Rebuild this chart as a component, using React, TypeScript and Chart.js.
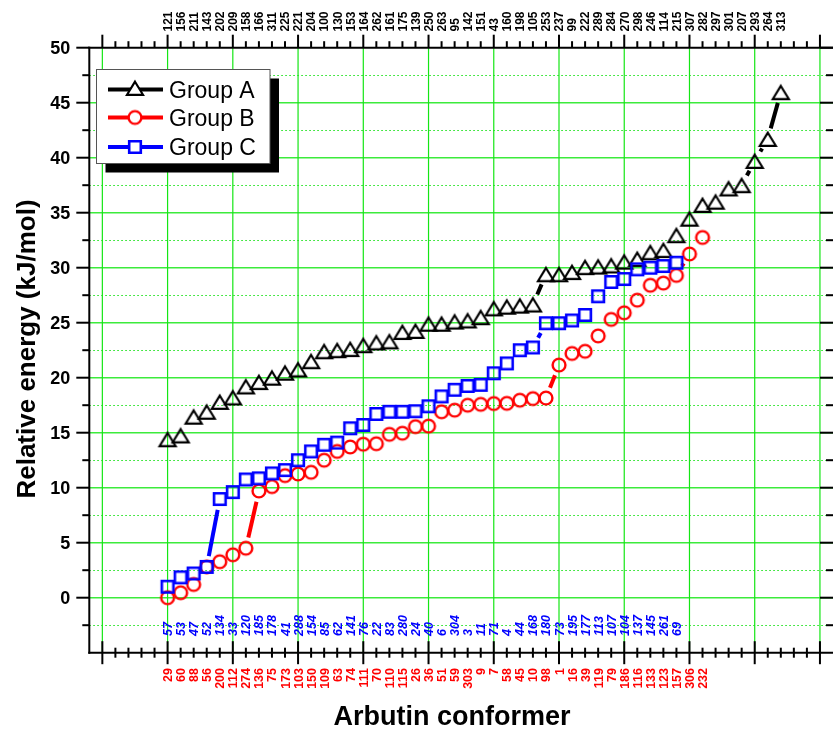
import React, { useEffect, useRef } from "react";
import { Chart, registerables } from "chart.js";
Chart.register(...registerables);

// ---- data (index = conformer rank along the x axis) ----
const energyA = [14.4, 14.75, 16.45, 16.9, 17.8, 18.2, 19.2, 19.6, 20.0, 20.45,
  20.75, 21.5, 22.4, 22.5, 22.6, 22.95, 23.2, 23.3, 24.15, 24.25,
  24.9, 24.9, 25.1, 25.2, 25.5, 26.3, 26.45, 26.55, 26.65, 29.4,
  29.4, 29.6, 30.05, 30.1, 30.2, 30.55, 30.8, 31.4, 31.6, 32.95,
  34.45, 35.7, 36.0, 37.2, 37.5, 39.7, 41.7, 45.95];
const energyB = [0.0, 0.45, 1.2, 2.8, 3.27, 3.9, 4.5, 9.7, 10.1, 11.1,
  11.25, 11.4, 12.5, 13.3, 13.7, 13.95, 14.0, 14.85, 14.95, 15.55,
  15.6, 16.9, 17.05, 17.5, 17.58, 17.65, 17.67, 17.95, 18.1, 18.15,
  21.15, 22.2, 22.4, 23.8, 25.3, 25.9, 27.05, 28.4, 28.6, 29.3,
  31.25, 32.75];
const energyC = [1.0, 1.85, 2.2, 2.8, 8.97, 9.6, 10.75, 10.85, 11.3, 11.6,
  12.5, 13.3, 13.9, 14.1, 15.4, 15.7, 16.7, 16.9, 16.9, 16.95,
  17.4, 18.3, 18.9, 19.25, 19.35, 20.4, 21.3, 22.5, 22.75, 24.95,
  24.95, 25.2, 25.7, 27.4, 28.7, 28.97, 29.85, 30.0, 30.15, 30.45];

const labelsA = ["121","156","211","143","202","209","158","166","311","225","221","204","100","130","153","164","262","161","175","139","250","263","95","142","151","43","160","198","105","253","237","99","222","289","284","270","298","246","114","215","307","282","297","301","207","293","264","313"];
const labelsB = ["29","60","88","56","200","112","274","136","75","173","103","150","109","63","74","111","70","110","115","26","36","51","59","303","9","7","58","45","10","98","1","16","39","119","79","186","116","133","123","157","306","232"];
const labelsC = ["57","53","47","52","134","33","120","185","178","41","288","154","85","62","141","76","22","83","280","24","40","6","304","3","11","71","4","44","168","180","73","195","177","113","107","104","137","145","261","69"];

const seriesNames = ["Group A", "Group B", "Group C"];
const seriesColors = ["#000000", "#ff0000", "#0000ff"];
const yTickValues = [0, 5, 10, 15, 20, 25, 30, 35, 40, 45, 50];
const xTitle = "Arbutin conformer";
const yTitle = "Relative energy (kJ/mol)";

const X_MIN = -5, X_MAX = 52, Y_MIN = -5, Y_MAX = 50;
const FONT = '"Liberation Sans", Arial, Helvetica, sans-serif';
const CW = 833, CH = 731;

type Kind = "tri" | "circle" | "square";
function makeMarker(kind: Kind, color: string, fill: string | null) {
  const c = document.createElement("canvas");
  c.width = 22; c.height = 22;
  const g = c.getContext("2d")!;
  g.strokeStyle = color;
  g.lineJoin = "miter";
  g.beginPath();
  if (kind === "tri") {
    g.lineWidth = 2.2;
    g.moveTo(11, 11 - 6.3);
    g.lineTo(11 + 8, 11 + 6.8);
    g.lineTo(11 - 8, 11 + 6.8);
    g.closePath();
  } else if (kind === "circle") {
    g.lineWidth = 2.4;
    g.arc(11, 11, 6.4, 0, Math.PI * 2);
  } else {
    g.lineWidth = 2.6;
    g.rect(11 - 5.8, 11 - 5.8, 11.6, 11.6);
  }
  if (fill) { g.fillStyle = fill; g.fill(); }
  g.stroke();
  return c;
}

const toPoints = (vals: number[]) => vals.map((v, i) => ({ x: i + 1, y: v }));

export default function App() {
  const ref = useRef<HTMLCanvasElement>(null);
  useEffect(() => {
    const canvas = ref.current!;
    const kinds: Kind[] = ["tri", "circle", "square"];
    const markers = kinds.map((k, i) => makeMarker(k, seriesColors[i], null));
    const legendMarkers = kinds.map((k, i) => makeMarker(k, seriesColors[i], "#ffffff"));

    const line = (ctx: CanvasRenderingContext2D, x1: number, y1: number, x2: number, y2: number) => {
      ctx.beginPath(); ctx.moveTo(x1, y1); ctx.lineTo(x2, y2); ctx.stroke();
    };
    const vlabel = (ctx: CanvasRenderingContext2D, text: string, x: number, y: number,
      align: CanvasTextAlign, font: string, color: string, cap: number) => {
      ctx.save();
      ctx.translate(x + cap / 2, y);
      ctx.rotate(-Math.PI / 2);
      ctx.textAlign = align;
      ctx.textBaseline = "alphabetic";
      ctx.font = font;
      ctx.fillStyle = color;
      ctx.fillText(text, 0, 0);
      ctx.restore();
    };

    const decor = {
      id: "decor",
      beforeDatasetsDraw(chart: any) {
        const ctx: CanvasRenderingContext2D = chart.ctx;
        const xs = chart.scales.x, ys = chart.scales.y, ca = chart.chartArea;
        ctx.save();
        // minor dotted horizontal grid
        ctx.strokeStyle = "rgb(20,225,20)";
        ctx.lineWidth = 1;
        ctx.setLineDash([1.5, 2.5]);
        for (let v = Y_MIN + 2.5; v < Y_MAX; v += 5) {
          const y = Math.round(ys.getPixelForValue(v)) + 0.5;
          line(ctx, ca.left, y, ca.right, y);
        }
        ctx.setLineDash([]);
        ctx.strokeStyle = "rgb(60,235,60)";
        ctx.lineWidth = 1.6;
        for (let v = 0; v < Y_MAX; v += 5) {
          const y = ys.getPixelForValue(v);
          line(ctx, ca.left, y, ca.right, y);
        }
        ctx.strokeStyle = "rgb(20,230,20)";
        ctx.lineWidth = 1.2;
        for (let i = -4; i <= X_MAX; i += 5) {
          const x = xs.getPixelForValue(i);
          line(ctx, x, ca.top, x, ca.bottom);
        }
        // gapped connecting lines
        ctx.beginPath(); ctx.rect(ca.left, ca.top, ca.right - ca.left, ca.bottom - ca.top); ctx.clip();
        const gap = 11;
        chart.data.datasets.forEach((ds: any, di: number) => {
          const meta = chart.getDatasetMeta(di);
          ctx.strokeStyle = ds.borderColor;
          ctx.lineWidth = 4;
          ctx.lineCap = "butt";
          for (let k = 0; k + 1 < meta.data.length; k++) {
            const p = meta.data[k], q = meta.data[k + 1];
            const dx = q.x - p.x, dy = q.y - p.y;
            const d = Math.hypot(dx, dy);
            if (d - 2 * gap < 1.5) continue;
            const ux = dx / d, uy = dy / d;
            line(ctx, p.x + ux * gap, p.y + uy * gap, q.x - ux * gap, q.y - uy * gap);
          }
        });
        ctx.restore();
      },
      afterDatasetsDraw(chart: any) {
        const ctx: CanvasRenderingContext2D = chart.ctx;
        const xs = chart.scales.x, ys = chart.scales.y, ca = chart.chartArea;
        ctx.save();
        ctx.strokeStyle = "#000";
        ctx.lineWidth = 2;
        ctx.lineCap = "square";
        // frame (right side lies at the canvas edge)
        line(ctx, ca.left, ca.top, ca.left, ca.bottom);
        line(ctx, ca.left, ca.top, ca.right, ca.top);
        line(ctx, ca.left, ca.bottom, ca.right, ca.bottom);
        ctx.lineCap = "butt";
        // y ticks
        for (let v = Y_MIN + 2.5; v <= Y_MAX; v += 2.5) {
          const y = ys.getPixelForValue(v);
          const major = Math.abs(v % 5) < 1e-6;
          const len = major ? 13 : 7;
          line(ctx, ca.left - len, y, ca.left, y);
          line(ctx, ca.right - len, y, ca.right, y);
        }
        // x ticks
        for (let i = X_MIN + 1; i < X_MAX; i++) {
          const x = xs.getPixelForValue(i);
          const major = ((i - 1) % 5 + 5) % 5 === 0;
          if (major) {
            line(ctx, x, ca.top - 13, x, ca.top);
            line(ctx, x, ca.bottom - 11.5, x, ca.bottom + 11.5);
          } else {
            line(ctx, x, ca.top - 6.5, x, ca.top);
            line(ctx, x, ca.bottom - 5, x, ca.bottom + 5);
          }
        }
        // y tick labels
        ctx.font = `bold 18px ${FONT}`;
        ctx.fillStyle = "#000";
        ctx.textAlign = "right";
        ctx.textBaseline = "alphabetic";
        yTickValues.forEach((v) => {
          const y = ys.getPixelForValue(v);
          ctx.fillText(String(v), ca.left - 19, y + 6.4);
        });
        // conformer labels
        const fTop = `bold 12px ${FONT}`;
        labelsA.forEach((t, i) => vlabel(ctx, t, xs.getPixelForValue(i + 1), 31.5, "left", fTop, "#000", 8.6));
        const fRed = `bold 12.5px ${FONT}`;
        labelsB.forEach((t, i) => vlabel(ctx, t, xs.getPixelForValue(i + 1), 668, "right", fRed, "#ff0000", 9));
        const fBlue = `italic bold 12.5px ${FONT}`;
        labelsC.forEach((t, i) => vlabel(ctx, t, xs.getPixelForValue(i + 1), 636, "left", fBlue, "#0000ff", 9));
        // titles
        ctx.font = `bold 27px ${FONT}`;
        ctx.fillStyle = "#000";
        ctx.textAlign = "center";
        ctx.textBaseline = "middle";
        ctx.fillText(xTitle, 452, 718);
        ctx.font = `bold 26px ${FONT}`;
        ctx.save();
        ctx.translate(28, 349);
        ctx.rotate(-Math.PI / 2);
        ctx.fillText(yTitle, 0, 0);
        ctx.restore();
        // legend
        ctx.fillStyle = "#000";
        ctx.fillRect(105.5, 78.5, 173.5, 94);
        ctx.fillStyle = "#fff";
        ctx.fillRect(96.5, 69.5, 173.5, 94);
        ctx.strokeStyle = "#555";
        ctx.lineWidth = 1;
        ctx.strokeRect(96.5, 69.5, 173.5, 94);
        const rows = [89.5, 117.5, 147];
        rows.forEach((ry, i) => {
          ctx.strokeStyle = seriesColors[i];
          ctx.lineWidth = 4;
          line(ctx, 108, ry, 163, ry);
          const m = legendMarkers[i];
          const my = i === 0 ? ry - 1.5 : ry;
          ctx.drawImage(m, 135 - m.width / 2, my - m.height / 2);
          ctx.font = `23px ${FONT}`;
          ctx.fillStyle = "#000";
          ctx.textAlign = "left";
          ctx.textBaseline = "alphabetic";
          ctx.fillText(seriesNames[i], 169, ry + 8);
        });
        ctx.restore();
      },
    };

    const datasets = [energyA, energyB, energyC].map((vals, i) => ({
      label: seriesNames[i],
      data: toPoints(vals),
      borderColor: seriesColors[i],
      backgroundColor: seriesColors[i],
      pointStyle: markers[i] as any,
      pointRadius: 8,
      showLine: false,
      order: 2 - i,
    }));

    const chart = new Chart(canvas, {
      type: "scatter",
      data: { datasets: datasets as any },
      options: {
        animation: false,
        responsive: false,
        maintainAspectRatio: false,
        devicePixelRatio: 1,
        events: [],
        layout: {
          autoPadding: false,
          padding: { left: 89.3, right: CW - 833.7, top: 47.7, bottom: CH - 652.7 },
        },
        plugins: { legend: { display: false }, tooltip: { enabled: false } },
        scales: {
          x: { type: "linear", min: X_MIN, max: X_MAX, display: false },
          y: { type: "linear", min: Y_MIN, max: Y_MAX, display: false },
        },
      },
      plugins: [decor],
    });
    return () => chart.destroy();
  }, []);

  return (
    <div style={{ position: "fixed", left: 0, top: 0, width: CW, height: CH, overflow: "hidden", background: "#fff" }}>
      <canvas ref={ref} width={CW} height={CH} style={{ display: "block", width: CW, height: CH }} />
    </div>
  );
}
